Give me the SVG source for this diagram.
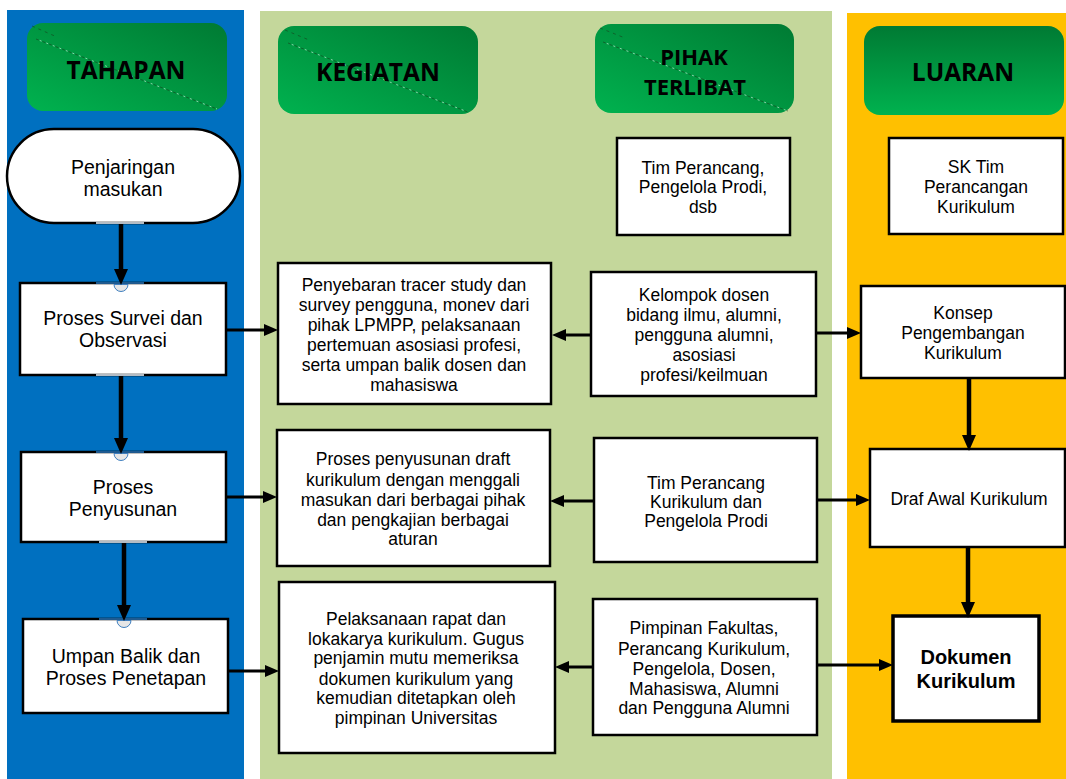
<svg xmlns="http://www.w3.org/2000/svg" width="1066" height="779" viewBox="0 0 1066 779">
<defs>
  <linearGradient id="gDiag" x1="0" y1="1" x2="1" y2="0">
    <stop offset="0" stop-color="#00B24F"/>
    <stop offset="1" stop-color="#007A33"/>
  </linearGradient>
  <linearGradient id="gVert" x1="0" y1="0" x2="0" y2="1">
    <stop offset="0" stop-color="#007A33"/>
    <stop offset="1" stop-color="#00B24F"/>
  </linearGradient>
  <marker id="ah" viewBox="0 0 16 14" refX="6" refY="7" markerWidth="16" markerHeight="14" markerUnits="userSpaceOnUse" orient="auto">
    <path d="M0,0 L16,7 L0,14 z" fill="#000"/>
  </marker>
  <marker id="ahs" viewBox="0 0 14 12" refX="6" refY="6" markerWidth="14" markerHeight="12" markerUnits="userSpaceOnUse" orient="auto">
    <path d="M0,0 L14,6 L0,12 z" fill="#000"/>
  </marker>
  <style>
    .box { fill:#fff; stroke:#000; stroke-width:2.5; }
    .bold-box { fill:#fff; stroke:#000; stroke-width:3.5; }
    .hdr { font-family:"Open Sans","DejaVu Sans",sans-serif; font-weight:bold; fill:#000; text-anchor:middle; }
    .t { font-family:"Liberation Sans",Arial,sans-serif; font-size:17.5px; fill:#000; text-anchor:middle; }
    .tl { font-family:"Liberation Sans",Arial,sans-serif; font-size:19.5px; fill:#000; text-anchor:middle; }
    .tb { font-family:"Liberation Sans",Arial,sans-serif; font-size:20px; font-weight:bold; fill:#000; text-anchor:middle; }
    .v { stroke:#000; stroke-width:4.5; fill:none; marker-end:url(#ah); }
    .h { stroke:#000; stroke-width:3; fill:none; marker-end:url(#ahs); }
    .dk { stroke:#1b3a1b; stroke-width:1; stroke-dasharray:3 4; opacity:0.55; }
    .wt { stroke:#ffffff; stroke-width:1; stroke-dasharray:2 5; stroke-dashoffset:3; opacity:0.55; }
    .conn { fill:#e6e6e6; stroke:#3f7fbf; stroke-width:1; }
    .seg { stroke:#b4bcc4; stroke-width:2; }
    .segt { stroke:#1f5a8f; stroke-width:2; }
  </style>
</defs>

<!-- lanes -->
<rect x="0" y="0" width="1066" height="779" fill="#fff"/>
<rect x="7" y="10" width="237" height="769" fill="#0070C0"/>
<rect x="260" y="11" width="572" height="768" fill="#C4D79B"/>
<rect x="847" y="13" width="219" height="766" fill="#FFC000"/>

<!-- headers -->
<g id="hdr-tahapan">
  <rect x="27" y="23" width="200" height="88" rx="16" fill="url(#gDiag)"/>
  <line class="dk" x1="32" y1="26" x2="57" y2="37"/>
  <line class="dk" x1="36" y1="39" x2="217" y2="109"/>
  <line class="wt" x1="36" y1="39" x2="217" y2="109"/>
  <text class="hdr" x="126" y="79" font-size="24.5">TAHAPAN</text>
</g>
<g id="hdr-kegiatan">
  <rect x="278" y="26" width="200" height="88" rx="16" fill="url(#gDiag)"/>
  <line class="dk" x1="285" y1="30" x2="309" y2="40"/>
  <line class="dk" x1="288" y1="43" x2="468" y2="112"/>
  <line class="wt" x1="288" y1="43" x2="468" y2="112"/>
  <text class="hdr" x="378" y="81" font-size="24.5">KEGIATAN</text>
</g>
<g id="hdr-pihak">
  <rect x="595" y="24" width="199" height="89" rx="16" fill="url(#gDiag)"/>
  <line class="dk" x1="600" y1="28" x2="625" y2="38"/>
  <line class="dk" x1="603" y1="42" x2="788" y2="111"/>
  <line class="wt" x1="603" y1="42" x2="788" y2="111"/>
  <text class="hdr" x="694" y="65" font-size="22">PIHAK</text>
  <text class="hdr" x="695" y="95" font-size="22">TERLIBAT</text>
</g>
<g id="hdr-luaran">
  <rect x="864" y="26" width="200" height="89" rx="16" fill="url(#gVert)"/>
  <text class="hdr" x="963" y="81" font-size="24.5">LUARAN</text>
</g>

<!-- Tahapan nodes -->
<g id="n-penjaringan">
  <rect class="box" x="7" y="129" width="233" height="94" rx="47"/>
  <line class="seg" x1="96" y1="223" x2="144" y2="223"/>
  <text class="tl" x="123" y="174">Penjaringan</text>
  <text class="tl" x="123" y="196">masukan</text>
</g>
<g id="n-survei">
  <rect class="box" x="20" y="283" width="206" height="92"/>
  <line class="seg" x1="96" y1="375" x2="144" y2="375"/>
  <line class="segt" x1="96" y1="283" x2="144" y2="283"/>
  <path class="conn" d="M114,284.5 A7,7 0 0 0 128,284.5 Z"/>
  <text class="tl" x="123" y="325">Proses Survei dan</text>
  <text class="tl" x="123" y="347">Observasi</text>
</g>
<g id="n-penyusunan">
  <rect class="box" x="21" y="452" width="205" height="90"/>
  <line class="seg" x1="99" y1="542" x2="147" y2="542"/>
  <line class="segt" x1="96" y1="452" x2="144" y2="452"/>
  <path class="conn" d="M114,453.5 A7,7 0 0 0 128,453.5 Z"/>
  <text class="tl" x="123" y="494">Proses</text>
  <text class="tl" x="123" y="516">Penyusunan</text>
</g>
<g id="n-umpan">
  <rect class="box" x="23" y="619" width="205" height="94"/>
  <line class="segt" x1="99" y1="619" x2="147" y2="619"/>
  <path class="conn" d="M117,620.5 A7,7 0 0 0 131,620.5 Z"/>
  <text class="tl" x="126" y="663">Umpan Balik dan</text>
  <text class="tl" x="126" y="685">Proses Penetapan</text>
</g>

<!-- Kegiatan nodes -->
<g id="n-keg1">
  <rect class="box" x="278" y="263" width="273" height="141"/>
  <text class="t" x="414" y="291">Penyebaran tracer study dan</text>
  <text class="t" x="414" y="311">survey pengguna, monev dari</text>
  <text class="t" x="414" y="331">pihak LPMPP, pelaksanaan</text>
  <text class="t" x="414" y="351">pertemuan asosiasi profesi,</text>
  <text class="t" x="414" y="371">serta umpan balik dosen dan</text>
  <text class="t" x="414" y="391">mahasiswa</text>
</g>
<g id="n-keg2">
  <rect class="box" x="277" y="430" width="273" height="136"/>
  <text class="t" x="413" y="465">Proses penyusunan draft</text>
  <text class="t" x="413" y="486">kurikulum dengan menggali</text>
  <text class="t" x="413" y="506">masukan dari berbagai pihak</text>
  <text class="t" x="413" y="526">dan pengkajian berbagai</text>
  <text class="t" x="413" y="545">aturan</text>
</g>
<g id="n-keg3">
  <rect class="box" x="279" y="582" width="276" height="171"/>
  <text class="t" x="416" y="625">Pelaksanaan rapat dan</text>
  <text class="t" x="416" y="645">lokakarya kurikulum. Gugus</text>
  <text class="t" x="416" y="664">penjamin mutu memeriksa</text>
  <text class="t" x="416" y="685">dokumen kurikulum yang</text>
  <text class="t" x="416" y="704">kemudian ditetapkan oleh</text>
  <text class="t" x="416" y="724">pimpinan Universitas</text>
</g>

<!-- Pihak nodes -->
<g id="n-pihak0">
  <rect class="box" x="617" y="138" width="173" height="97"/>
  <text class="t" x="703" y="174">Tim Perancang,</text>
  <text class="t" x="703" y="193">Pengelola Prodi,</text>
  <text class="t" x="703" y="213">dsb</text>
</g>
<g id="n-pihak1">
  <rect class="box" x="591" y="272" width="225" height="124"/>
  <text class="t" x="704" y="301">Kelompok dosen</text>
  <text class="t" x="704" y="321">bidang ilmu, alumni,</text>
  <text class="t" x="704" y="341">pengguna alumni,</text>
  <text class="t" x="704" y="361">asosiasi</text>
  <text class="t" x="704" y="381">profesi/keilmuan</text>
</g>
<g id="n-pihak2">
  <rect class="box" x="594" y="438" width="223" height="124"/>
  <text class="t" x="706" y="489">Tim Perancang</text>
  <text class="t" x="706" y="508">Kurikulum dan</text>
  <text class="t" x="706" y="527">Pengelola Prodi</text>
</g>
<g id="n-pihak3">
  <rect class="box" x="593" y="599" width="224" height="136"/>
  <text class="t" x="704" y="634">Pimpinan Fakultas,</text>
  <text class="t" x="704" y="655">Perancang Kurikulum,</text>
  <text class="t" x="704" y="675">Pengelola, Dosen,</text>
  <text class="t" x="704" y="695">Mahasiswa, Alumni</text>
  <text class="t" x="704" y="714">dan Pengguna Alumni</text>
</g>

<!-- Luaran nodes -->
<g id="n-luaran0">
  <rect class="box" x="889" y="138" width="174" height="96"/>
  <text class="t" x="976" y="173">SK Tim</text>
  <text class="t" x="976" y="193">Perancangan</text>
  <text class="t" x="976" y="213">Kurikulum</text>
</g>
<g id="n-luaran1">
  <rect class="box" x="861" y="286" width="204" height="92"/>
  <text class="t" x="963" y="319">Konsep</text>
  <text class="t" x="963" y="339">Pengembangan</text>
  <text class="t" x="963" y="359">Kurikulum</text>
</g>
<g id="n-luaran2">
  <rect class="box" x="870" y="449" width="195" height="98"/>
  <text class="t" x="969" y="505">Draf Awal Kurikulum</text>
</g>
<g id="n-luaran3">
  <rect class="bold-box" x="893" y="616" width="146" height="105"/>
  <text class="tb" x="966" y="664">Dokumen</text>
  <text class="tb" x="966" y="688">Kurikulum</text>
</g>

<!-- connectors -->
<g id="connectors">
  <line class="v" x1="121" y1="224" x2="121" y2="275"/>
  <line class="v" x1="121" y1="376" x2="121" y2="444"/>
  <line class="v" x1="124" y1="543" x2="124" y2="611"/>
  <line class="v" x1="969" y1="379" x2="969" y2="441"/>
  <line class="v" x1="968" y1="548" x2="968" y2="608"/>

  <line class="h" x1="227" y1="330" x2="270" y2="330"/>
  <line class="h" x1="227" y1="497" x2="269" y2="497"/>
  <line class="h" x1="229" y1="671" x2="271" y2="671"/>

  <line class="h" x1="591" y1="335" x2="560" y2="335"/>
  <line class="h" x1="594" y1="501" x2="558" y2="501"/>
  <line class="h" x1="593" y1="667" x2="563" y2="667"/>

  <line class="h" x1="816" y1="333" x2="853" y2="333"/>
  <line class="h" x1="817" y1="500" x2="862" y2="500"/>
  <line class="h" x1="817" y1="665" x2="885" y2="665"/>
</g>
</svg>
